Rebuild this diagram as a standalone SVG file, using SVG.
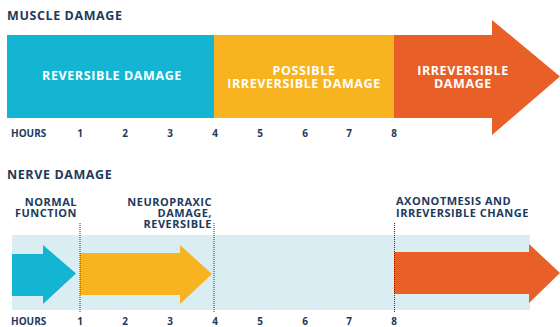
<svg xmlns="http://www.w3.org/2000/svg" width="560" height="327" viewBox="0 0 560 327">
<style>
text{font-family:"Open Sans","Liberation Sans",sans-serif;font-weight:700}
.title{font-size:12.5px;fill:#1d3a5c;letter-spacing:0.6px}
.in{font-size:12.5px;fill:#ffffff;text-anchor:middle;letter-spacing:0.6px}
.hr{font-size:10px;fill:#1d3a5c;text-anchor:middle}
.lb{font-size:11px;fill:#1d3a5c;letter-spacing:0.5px}
.dot{stroke:#1d3a5c;stroke-width:1;stroke-dasharray:1 1;fill:none}
</style>
<rect width="560" height="327" fill="#ffffff"/>
<text class="title" x="7" y="20">MUSCLE DAMAGE</text>
<g id="muscle-reversible">
<rect x="7" y="35" width="207" height="83" fill="#13b5d3"/>
<text class="in" x="112" y="80">REVERSIBLE DAMAGE</text>
</g>
<g id="muscle-possible">
<rect x="214" y="35" width="180" height="83" fill="#f8b420"/>
<text class="in" x="304" y="75">POSSIBLE</text>
<text class="in" x="304" y="88">IRREVERSIBLE DAMAGE</text>
</g>
<g id="muscle-irreversible">
<path d="M394 35H492V20L560 76.5L492 135V118H394Z" fill="#e95f28"/>
<text class="in" x="463" y="75">IRREVERSIBLE</text>
<text class="in" x="463" y="88">DAMAGE</text>
</g>
<g id="muscle-hours">
<text class="hr" x="11" y="137" style="text-anchor:start">HOURS</text>
<text class="hr" x="80" y="137">1</text>
<text class="hr" x="125" y="137">2</text>
<text class="hr" x="170" y="137">3</text>
<text class="hr" x="215" y="137">4</text>
<text class="hr" x="260" y="137">5</text>
<text class="hr" x="305" y="137">6</text>
<text class="hr" x="349" y="137">7</text>
<text class="hr" x="394" y="137">8</text>
</g>
<text class="title" x="7" y="179">NERVE DAMAGE</text>
<g id="nerve-band">
<rect x="12" y="235" width="518" height="75" fill="#d9edf3"/>
</g>
<g id="nerve-normal">
<path d="M12 254H43V245L76 273.5L43 304V296H12Z" fill="#13b5d3"/>
<text class="lb" x="77" y="206" text-anchor="end">NORMAL</text>
<text class="lb" x="77" y="217" text-anchor="end">FUNCTION</text>
</g>
<g id="nerve-neuropraxic">
<path d="M80 253H180V245L212 274L180 304V295H80Z" fill="#f8b420"/>
<text class="lb" x="212" y="206" text-anchor="end">NEUROPRAXIC</text>
<text class="lb" x="212" y="217" text-anchor="end">DAMAGE,</text>
<text class="lb" x="212" y="228" text-anchor="end">REVERSIBLE</text>
</g>
<g id="nerve-axonotmesis">
<path d="M394 252H529V244L560 273L529 303V294H394Z" fill="#e95f28"/>
<text class="lb" x="396" y="205">AXONOTMESIS AND</text>
<text class="lb" x="396" y="217">IRREVERSIBLE CHANGE</text>
</g>
<g id="connectors">
<line class="dot" x1="80" y1="223" x2="80" y2="312"/>
<line class="dot" x1="214" y1="223" x2="214" y2="312"/>
<line class="dot" x1="394.5" y1="223" x2="394.5" y2="312"/>
</g>
<g id="nerve-hours">
<text class="hr" x="11" y="325" style="text-anchor:start">HOURS</text>
<text class="hr" x="80" y="325">1</text>
<text class="hr" x="125" y="325">2</text>
<text class="hr" x="170" y="325">3</text>
<text class="hr" x="215" y="325">4</text>
<text class="hr" x="260" y="325">5</text>
<text class="hr" x="305" y="325">6</text>
<text class="hr" x="349" y="325">7</text>
<text class="hr" x="394" y="325">8</text>
</g>
</svg>
